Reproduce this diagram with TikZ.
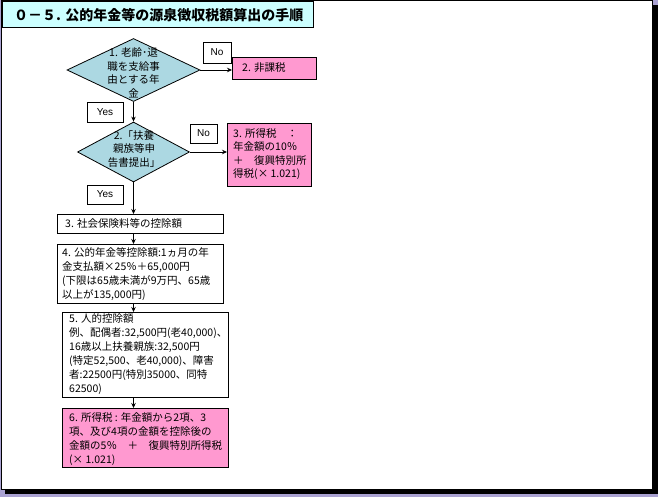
\documentclass[tikz,border=0pt]{standalone}
\usepackage{fontspec}
\setmainfont{Noto Sans CJK JP}
\newfontfamily\latinfont{Liberation Sans}
\usetikzlibrary{shapes.geometric,arrows.meta,calc}
\definecolor{bgpurple}{RGB}{170,162,210}
\definecolor{pinkfill}{RGB}{255,153,208}
\definecolor{diafill}{RGB}{172,216,226}
\definecolor{titlefill}{RGB}{204,255,255}
\begin{document}
\begin{tikzpicture}[x=1pt,y=-1pt,
  box/.style={draw=black, line width=0.8pt, fill=white, anchor=north west, inner sep=0pt},
  pinkbox/.style={box, fill=pinkfill},
  dia/.style={diamond, draw=black, line width=0.8pt, fill=diafill, inner sep=0pt},
  txt/.style={inner sep=0pt, align=left, anchor=north west, font=\fontsize{10.5}{14}\selectfont},
  ctxt/.style={inner sep=0pt, align=center, font=\fontsize{10.5}{13.5}\selectfont},
  yn/.style={draw=black, line width=0.8pt, fill=white, inner sep=0pt, font=\latinfont\fontsize{10}{12}\selectfont},
  arr/.style={-{Stealth[length=5pt,width=4.5pt]}, line width=0.8pt}
]
\useasboundingbox (0,0) rectangle (658,497);
% frame
\fill[bgpurple] (0,0) rectangle (658,497);
\fill[black] (5,5) rectangle (657.5,494);
\draw[fill=white, line width=1pt] (1.5,0.5) rectangle (652.5,489);
% title
\node[box, fill=titlefill, line width=1pt, minimum width=311, minimum height=26] (title) at (2,1) {};
\node[anchor=west, inner sep=0pt, font=\bfseries\fontsize{14}{16}\selectfont] (titletext) at (14,15) {０－５. 公的年金等の源泉徴収税額算出の手順};
% diamonds
\node[dia, minimum width=133, minimum height=63] (d1) at (133.5,70) {};
\node[ctxt] (t1) at (133.5,73) {1. 老齢･退\\職を支給事\\由とする年\\金};
\node[dia, minimum width=112, minimum height=60] (d2) at (133.5,152) {};
\node[ctxt] (td2) at (134,149) {2.「扶養\\親族等申\\告書提出」};
% right boxes
\node[pinkbox, minimum width=84, minimum height=22] (b2) at (232,57) {};
\node[anchor=west, inner sep=0pt, font=\fontsize{10.5}{14}\selectfont] (t2) at (242,68) {2. 非課税};
\node[pinkbox, minimum width=84, minimum height=63] (b3) at (227,123) {};
\node[txt, font=\fontsize{10.5}{13.5}\selectfont] (t3) at (233,128) {3. 所得税　：\\年金額の10％\\＋　復興特別所\\得税(× 1.021)};
% yes / no
\node[yn, minimum width=28, minimum height=21] (no1) at (217,52.5) {No};
\node[yn, minimum width=27, minimum height=19] (no2) at (203.5,133.5) {No};
\node[yn, minimum width=36, minimum height=20] (yes1) at (105,112) {Yes};
\node[yn, minimum width=36, minimum height=19] (yes2) at (105,194.5) {Yes};
% main boxes
\node[box, minimum width=166, minimum height=19] (b3s) at (57,214) {};
\node[anchor=west, inner sep=0pt, font=\fontsize{10.5}{14}\selectfont] (t3s) at (65,224) {3. 社会保険料等の控除額};
\node[box, minimum width=166, minimum height=59] (b4) at (57,244) {};
\node[txt] (t4) at (62,247) {4. 公的年金等控除額:1ヵ月の年\\金支払額×25％＋65,000円\\(下限は65歳未満が9万円、65歳\\以上が135,000円)};
\node[box, minimum width=166, minimum height=85] (b5) at (62,312) {};
\node[txt] (t5) at (69,313) {5. 人的控除額\\例、配偶者:32,500円(老40,000)、\\16歳以上扶養親族:32,500円\\(特定52,500、老40,000)、障害\\者:22500円(特別35000、同特\\62500)};
\node[pinkbox, minimum width=166, minimum height=59] (b6) at (62,408) {};
\node[txt] (t6) at (69,412) {6. 所得税 : 年金額から2項、3\\項、及び4項の金額を控除後の\\金額の5％　＋　復興特別所得税\\(× 1.021)};
% connectors
\draw[arr] (d1.east) -- (d1.east -| b2.west);
\draw[arr] (d1.south) -- (d2.north);
\draw[arr] (d2.east) -- (d2.east -| b3.west);
\draw[arr] (d2.south) -- (d2.south |- b3s.north);
\draw[arr] (b3s.south -| d1.south) -- (b4.north -| d1.south);
\draw[arr] (b4.south -| d1.south) -- (b5.north -| d1.south);
\draw[arr] (b5.south -| d1.south) -- (b6.north -| d1.south);
\end{tikzpicture}
\end{document}
